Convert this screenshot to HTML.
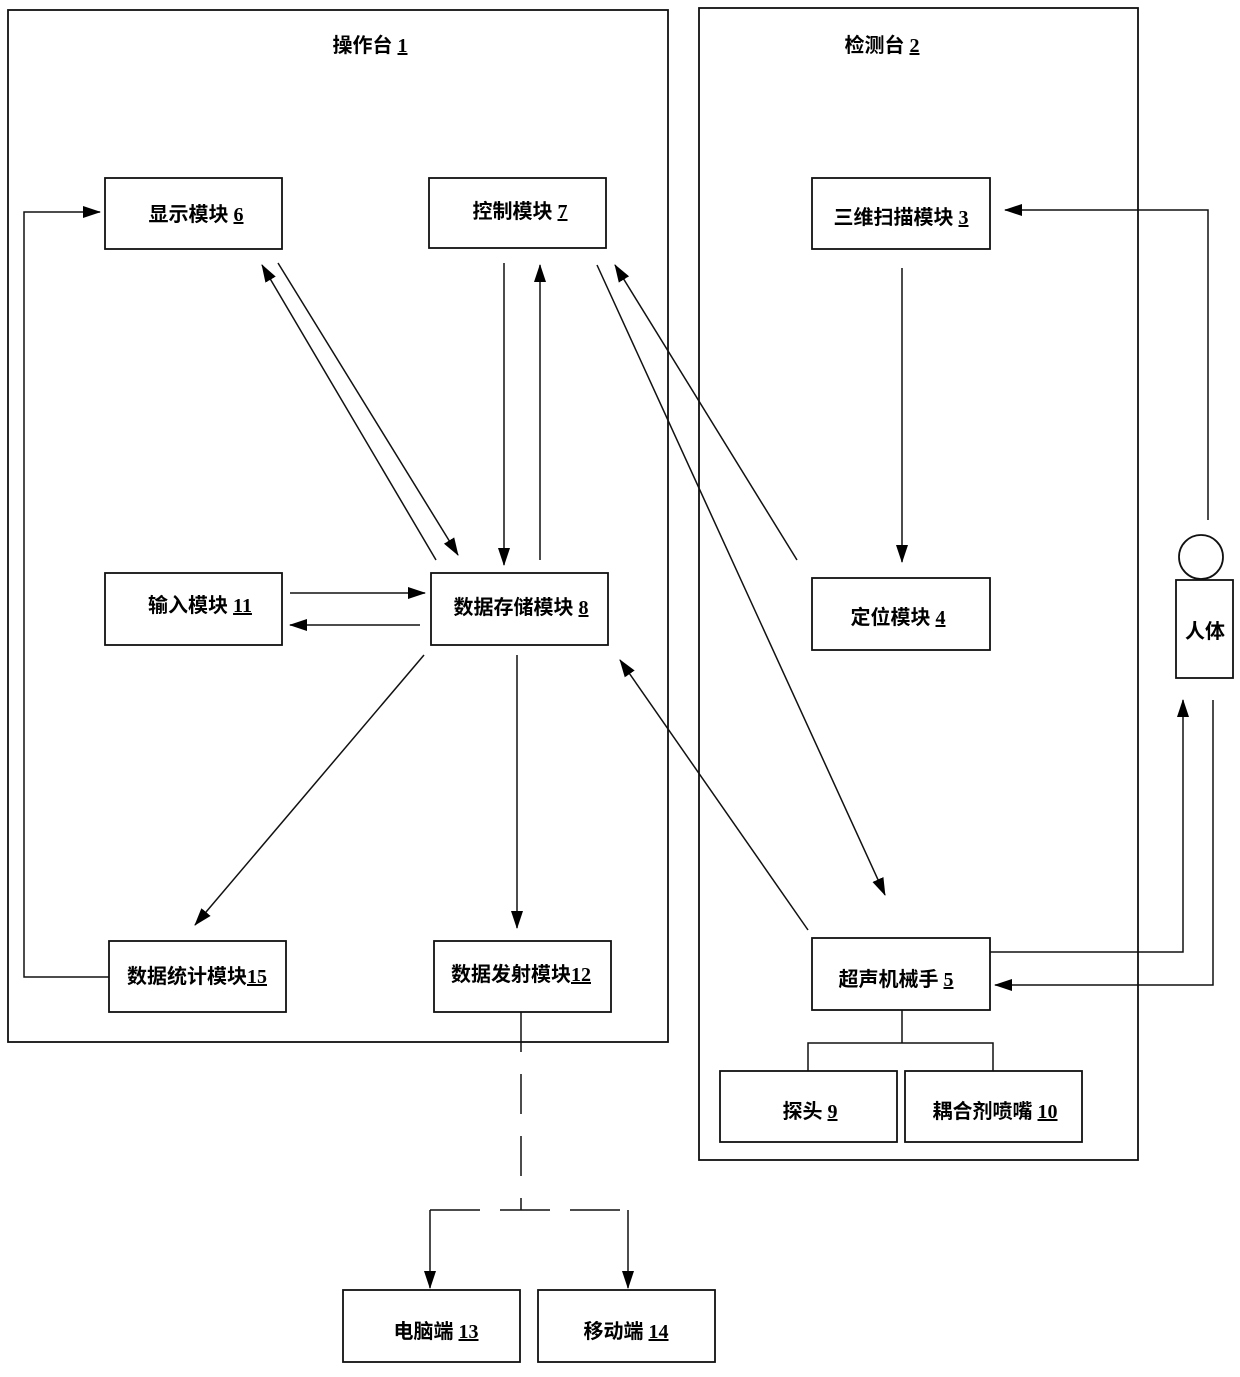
<!DOCTYPE html>
<html><head><meta charset="utf-8"><style>
html,body{margin:0;padding:0;background:#fff;}
svg text{font-family:"Liberation Serif","Noto Sans CJK SC","Noto Serif CJK SC",serif;font-weight:bold;font-size:20px;fill:#000;}
</style></head><body>
<svg width="1240" height="1372" viewBox="0 0 1240 1372" xmlns="http://www.w3.org/2000/svg">
<defs>
<marker id="a" markerWidth="18" markerHeight="12" refX="17" refY="6" orient="auto" markerUnits="userSpaceOnUse">
<path d="M0,0 L18,6 L0,12 Z" fill="#000"/></marker>
</defs>
<g fill="none" stroke="#111" stroke-width="1.8">
<rect x="8" y="10" width="660" height="1032"/>
<rect x="699" y="8" width="439" height="1152"/>
<rect x="105" y="178" width="177" height="71"/>
<rect x="429" y="178" width="177" height="70"/>
<rect x="812" y="178" width="178" height="71"/>
<rect x="105" y="573" width="177" height="72"/>
<rect x="431" y="573" width="177" height="72"/>
<rect x="812" y="578" width="178" height="72"/>
<rect x="109" y="941" width="177" height="71"/>
<rect x="434" y="941" width="177" height="71"/>
<rect x="812" y="938" width="178" height="72"/>
<rect x="720" y="1071" width="177" height="71"/>
<rect x="905" y="1071" width="177" height="71"/>
<rect x="343" y="1290" width="177" height="72"/>
<rect x="538" y="1290" width="177" height="72"/>
<circle cx="1201" cy="557" r="22"/>
<rect x="1176" y="580" width="57" height="98"/>
</g>
<g fill="none" stroke="#111" stroke-width="1.5" marker-end="url(#a)">
<line x1="278" y1="263" x2="458" y2="555"/>
<line x1="436" y1="560" x2="262" y2="265"/>
<line x1="504" y1="263" x2="504" y2="565"/>
<line x1="540" y1="560" x2="540" y2="265"/>
<line x1="597" y1="265" x2="885" y2="895"/>
<line x1="797" y1="560" x2="615" y2="265"/>
<line x1="808" y1="930" x2="620" y2="660"/>
<line x1="902" y1="268" x2="902" y2="562"/>
<polyline points="1208,520 1208,210 1005,210"/>
<polyline points="990,952 1183,952 1183,700"/>
<polyline points="1213,700 1213,985 995,985"/>
<line x1="290" y1="593" x2="425" y2="593"/>
<line x1="420" y1="625" x2="290" y2="625"/>
<line x1="424" y1="655" x2="195" y2="925"/>
<line x1="517" y1="655" x2="517" y2="928"/>
<polyline points="109,977 24,977 24,212 100,212"/>
<polyline points="430,1210 430,1288" />
<polyline points="628,1210 628,1288" />
</g>
<g fill="none" stroke="#111" stroke-width="1.5">
<line x1="521" y1="1012" x2="521" y2="1210" stroke-dasharray="40,22"/>
<line x1="430" y1="1210" x2="628" y2="1210" stroke-dasharray="50,20"/>
<polyline points="902,1010 902,1043"/>
<polyline points="808,1071 808,1043 993,1043 993,1071"/>
</g>
<text x="370" y="52" text-anchor="middle">操作台 <tspan text-decoration="underline">1</tspan></text>
<text x="882" y="52" text-anchor="middle">检测台 <tspan text-decoration="underline">2</tspan></text>
<text x="196" y="221" text-anchor="middle">显示模块 <tspan text-decoration="underline">6</tspan></text>
<text x="520" y="218" text-anchor="middle">控制模块 <tspan text-decoration="underline">7</tspan></text>
<text x="901" y="224" text-anchor="middle">三维扫描模块 <tspan text-decoration="underline">3</tspan></text>
<text x="200" y="612" text-anchor="middle">输入模块 <tspan text-decoration="underline">11</tspan></text>
<text x="521" y="614" text-anchor="middle">数据存储模块 <tspan text-decoration="underline">8</tspan></text>
<text x="898" y="624" text-anchor="middle">定位模块 <tspan text-decoration="underline">4</tspan></text>
<text x="197" y="983" text-anchor="middle">数据统计模块<tspan text-decoration="underline">15</tspan></text>
<text x="521" y="981" text-anchor="middle">数据发射模块<tspan text-decoration="underline">12</tspan></text>
<text x="896" y="986" text-anchor="middle">超声机械手 <tspan text-decoration="underline">5</tspan></text>
<text x="810" y="1118" text-anchor="middle">探头 <tspan text-decoration="underline">9</tspan></text>
<text x="995" y="1118" text-anchor="middle">耦合剂喷嘴 <tspan text-decoration="underline">10</tspan></text>
<text x="436" y="1338" text-anchor="middle">电脑端 <tspan text-decoration="underline">13</tspan></text>
<text x="626" y="1338" text-anchor="middle">移动端 <tspan text-decoration="underline">14</tspan></text>
<text x="1205" y="638" text-anchor="middle">人体</text>
</svg>
</body></html>
